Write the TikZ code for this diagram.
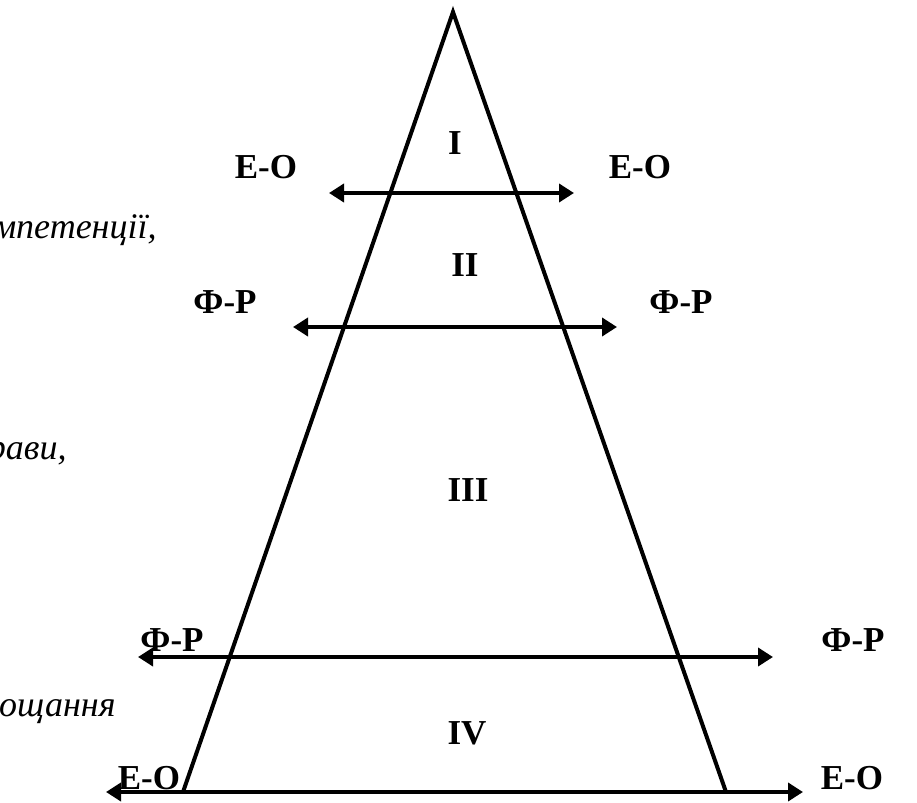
\documentclass[tikz,border=0pt]{standalone}
\usepackage{fontspec}
\setmainfont{Liberation Serif}
\usetikzlibrary{arrows.meta}

\begin{document}
\begin{tikzpicture}[x=0.5pt,y=-0.5pt]
\tikzset{
  boundlabel/.style={font=\fontsize{17.5}{20}\selectfont\bfseries,inner sep=0pt},
  levelnum/.style={font=\fontsize{17.5}{20}\selectfont\bfseries,inner sep=0pt},
  sidetext/.style={font=\fontsize{18}{21}\selectfont\itshape,inner sep=0pt,anchor=base east},
  boundary/.style={{Triangle[length=7.5pt,width=9pt]}-{Triangle[length=7.5pt,width=9pt]},line width=2pt},
  pyramid/.style={line width=2pt,line join=miter}
}
\useasboundingbox (0,0) rectangle (917,803);
\clip (0,0) rectangle (917,803);
\coordinate (p_top) at (453,12);
\coordinate (p_bl) at (183,792);
\coordinate (p_br) at (726,792);
\coordinate (b1_w) at (329,193);
\coordinate (b1_e) at (574,193);
\coordinate (b2_w) at (293,327);
\coordinate (b2_e) at (617,327);
\coordinate (b3_w) at (138,657);
\coordinate (b3_e) at (773,657);
\coordinate (b4_w) at (106,792);
\coordinate (b4_e) at (803,792);
\node[boundlabel] (l_b1w) at (266,167) {Е-О};
\node[boundlabel] (l_b1e) at (640,167) {Е-О};
\node[boundlabel] (l_b2w) at (225,302) {Ф-Р};
\node[boundlabel] (l_b2e) at (681,302) {Ф-Р};
\node[boundlabel] (l_b3w) at (172,640) {Ф-Р};
\node[boundlabel] (l_b3e) at (853,640) {Ф-Р};
\node[boundlabel] (l_b4w) at (149,778) {Е-О};
\node[boundlabel] (l_b4e) at (852,778) {Е-О};
\node[levelnum] (n_I) at (455,143) {I};
\node[levelnum] (n_II) at (465,265) {II};
\node[levelnum] (n_III) at (468,490) {III};
\node[levelnum] (n_IV) at (467,733) {IV};
\node[sidetext] (t_1) at (157,238) {мпетенції,};
\node[sidetext] (t_2) at (67,459) {рави,};
\node[sidetext] (t_3) at (116,716) {ощання};
\draw[pyramid] (p_bl) -- (p_top) -- (p_br);
\draw[boundary] (b1_w) -- (b1_e);
\draw[boundary] (b2_w) -- (b2_e);
\draw[boundary] (b3_w) -- (b3_e);
\draw[boundary] (b4_w) -- (b4_e);
\end{tikzpicture}
\end{document}
